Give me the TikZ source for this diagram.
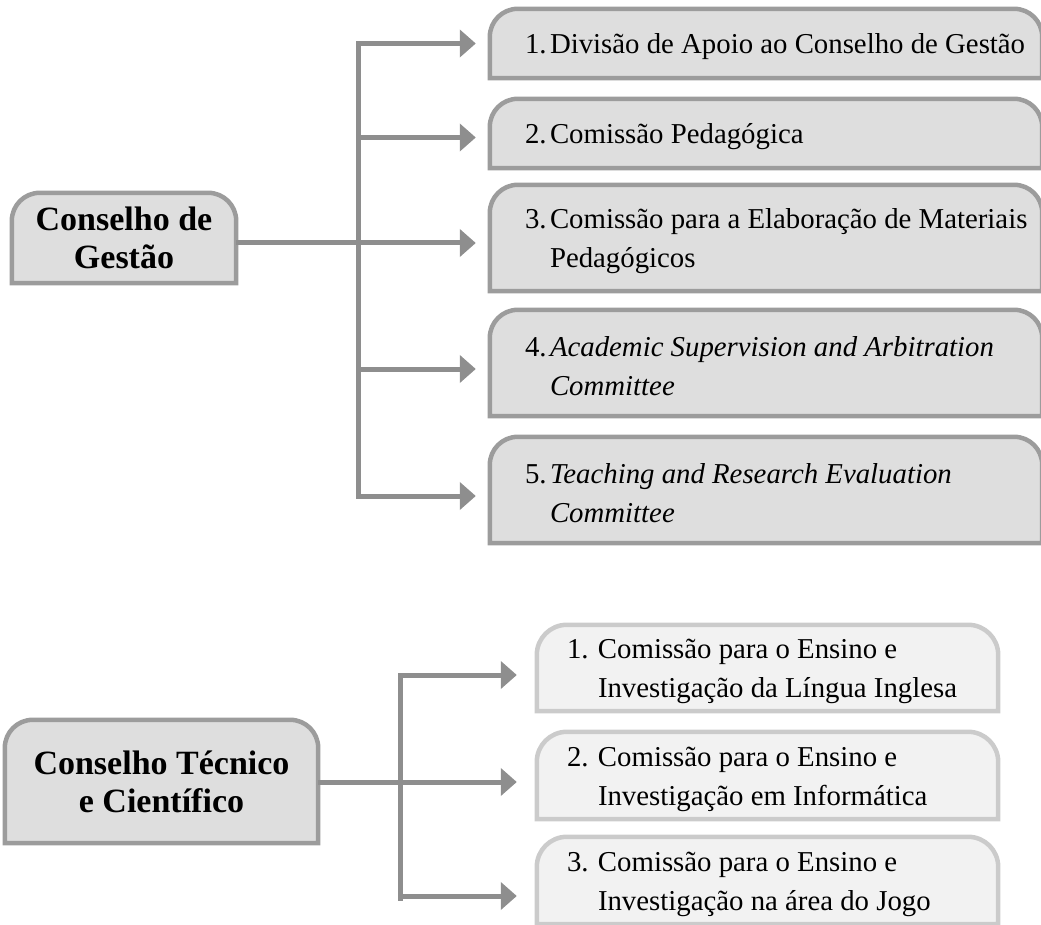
\documentclass[tikz,border=0pt]{standalone}
\usepackage{fontspec}
\setmainfont{Liberation Serif}
\usepackage{tikz}
\usetikzlibrary{arrows.meta,backgrounds,calc}

\definecolor{boxgray}{HTML}{DEDEDE}
\definecolor{edgegray}{HTML}{9C9C9C}
\definecolor{palegray}{HTML}{F2F2F2}
\definecolor{paleedge}{HTML}{CBCBCB}
\definecolor{linkgray}{HTML}{8E8E8E}

% outline with rounded top corners round a node
\newcommand{\tabbox}[3]{%
  \draw[#3] (#1.south west) -- ([yshift=-#2]#1.north west)
    arc[start angle=180, end angle=90, radius=#2]
    -- ([xshift=-#2]#1.north east)
    arc[start angle=90, end angle=0, radius=#2]
    -- (#1.south east) -- cycle;}
% numbered entries, hanging indent
\newcommand{\upnum}[2]{\leftskip=35pt\hangindent=25pt\hangafter=1\relax\rule{0pt}{27pt}\makebox[25pt][l]{#1}#2\par}
\newcommand{\lownum}[2]{\leftskip=30pt\hangindent=31pt\hangafter=1\relax\rule{0pt}{27pt}\makebox[31pt][l]{#1}#2\par}

\tikzset{
  council/.style={inner sep=0pt, align=flush center, font=\fontsize{34}{38}\selectfont\bfseries},
  upbox/.style={inner sep=0pt, text width=552pt, align=flush left, font=\fontsize{28.8}{39}\selectfont},
  lowbox/.style={inner sep=0pt, text width=461pt, align=flush left, font=\fontsize{28.8}{39}\selectfont},
  darkfill/.style={fill=boxgray, draw=edgegray, line width=4.5pt},
  palefill/.style={fill=palegray, draw=paleedge, line width=4.5pt},
  link/.style={draw=linkgray, line width=5pt},
  branch/.style={link, -{Triangle[length=16pt, width=27pt]}},
}

\begin{document}
\begin{tikzpicture}[x=1pt, y=1pt]
  \useasboundingbox (0,0) rectangle (1041,-925);
  % Sizes
  \pgfmathsetmacro{\uprad}{28}
  \pgfmathsetmacro{\lowrad}{30}

  % councils
  \node[council, text width=224pt, minimum height=90pt] (cg) at (124,-238) {Conselho de\\Gestão};
  \node[council, text width=313pt, minimum height=123pt] (ctc) at (161.5,-781.5) {Conselho Técnico\\e Científico};

  % upper committees
  \node[upbox, minimum height=69pt] (b1) at (766,-43.5) {\upnum{1.}{Divisão de Apoio ao Conselho de Gestão}};
  \node[upbox, minimum height=69pt] (b2) at (766,-133.5) {\upnum{2.}{Comissão Pedagógica}};
  \node[upbox, minimum height=106pt] (b3) at (766,-238) {\upnum{3.}{Comissão para a Elaboração de Materiais\newline Pedagógicos}};
  \node[upbox, minimum height=106pt] (b4) at (766,-363) {\upnum{4.}{\textit{Academic Supervision and Arbitration}\newline \textit{Committee}}};
  \node[upbox, minimum height=106pt] (b5) at (766,-490) {\upnum{5.}{\textit{Teaching and Research Evaluation}\newline \textit{Committee}}};

  % lower committees
  \node[lowbox, minimum height=86pt] (c1) at (767.5,-668) {\lownum{1.}{Comissão para o Ensino e\newline Investigação da Língua Inglesa}};
  \node[lowbox, minimum height=87pt] (c2) at (767.5,-775.5) {\lownum{2.}{Comissão para o Ensino e\newline Investigação em Informática}};
  \node[lowbox, minimum height=87pt] (c3) at (767.5,-880.5) {\lownum{3.}{Comissão para o Ensino e\newline Investigação na área do Jogo}};

  % outlines
  \begin{scope}[on background layer]
    \clip (0,0) rectangle (1041,-925);
    \foreach \n in {cg,ctc,b1,b2,b3,b4,b5}
      \tabbox{\n}{\uprad pt}{darkfill};
    \foreach \n in {c1,c2,c3}
      \tabbox{\n}{\lowrad pt}{palefill};
  \end{scope}

  % trunks
  \coordinate (tg) at (358,0);
  \coordinate (tb) at (400,0);
  \draw[link, line cap=rect] (b1.west -| tg) -- ($(b5.west -| tg)+(0,-6)$);
  \draw[link, line cap=rect] ($(c1.west -| tb)+(0,-7)$) -- ($(c3.west -| tb)+(0,-17.5)$);

  % arrows
  \foreach \b/\dy in {b1/0,b2/4,b4/6,b5/6}
    \draw[branch, shorten >=14pt] ($(\b.west -| tg)+(0,-\dy)$) -- ($(\b.west)+(0,-\dy)$);
  \draw[branch, shorten >=14pt] ($(cg.east)+(0,-5)$) -- ($(b3.west)+(0,-5)$);
  \foreach \c/\dy in {c1/7,c3/15.5}
    \draw[branch, shorten >=20pt] ($(\c.west -| tb)+(0,-\dy)$) -- ($(\c.west)+(0,-\dy)$);
  \draw[branch, shorten >=20pt] ($(ctc.east)+(0,-0.5)$) -- ($(c2.west)+(0,-6.5)$);
\end{tikzpicture}
\end{document}
